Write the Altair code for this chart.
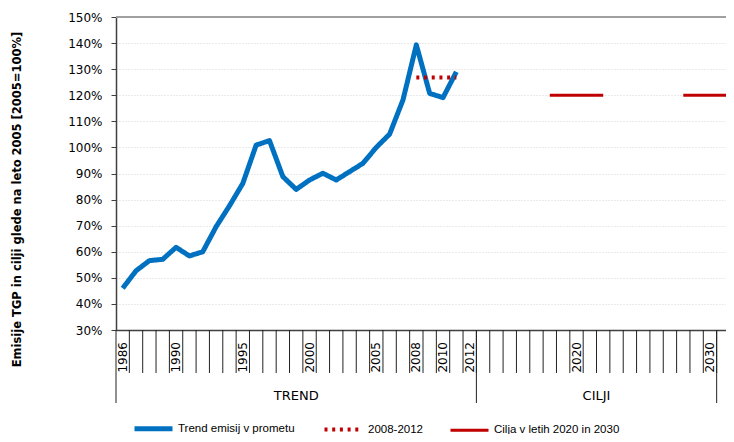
import altair as alt
import pandas as pd

# ---- data ----
trend_years = list(range(1986, 2012))
trend_values = [46.0, 52.7, 56.6, 57.1, 61.7, 58.4, 60.0, 69.6, 77.6, 86.2,
                100.9, 102.6, 88.8, 83.9, 87.5, 90.1, 87.5, 90.7, 93.9, 100.0,
                105.1, 118.2, 139.3, 120.7, 119.1, 129.0]
kyoto_years = [2008, 2011]
kyoto_values = [126.8, 126.8]
target_2020_years = [2018, 2022]
target_2030_years = [2028, 2032]
target_value = 120
series_names = ["Trend emisij v prometu", "2008-2012", "Cilja v letih 2020 in 2030"]
label_years = [1986, 1990, 1995, 2000, 2005, 2008, 2010, 2012, 2020, 2030]
group_names = ["TREND", "CILJI"]
group_bounds = [1985.5, 2012.5, 2030.5]
y_ticks = list(range(30, 151, 10))
y_top = [150]

BLUE = "#0070C0"
RED = "#C00000"

rows = []
for yr, v in zip(trend_years, trend_values):
    rows.append({"year": yr, "value": v, "series": series_names[0], "seg": "t"})
for yr, v in zip(kyoto_years, kyoto_values):
    rows.append({"year": yr, "value": v, "series": series_names[1], "seg": "k"})
for yr in target_2020_years:
    rows.append({"year": yr, "value": target_value, "series": series_names[2], "seg": "a"})
for yr in target_2030_years:
    rows.append({"year": yr, "value": target_value, "series": series_names[2], "seg": "b"})
lines = pd.DataFrame(rows)

boundaries = [trend_years[0] - 0.5 + k for k in range(1, 46)]
xscale = alt.Scale(domain=[1985.5, 2031.2], nice=False, zero=False)
yscale = alt.Scale(domain=[30, 150], nice=False, zero=False)

x_axis = alt.Axis(ticks=False, labels=False, title=None, grid=False,
                  domainColor="#404040", domainWidth=1.5)
y_axis = alt.Axis(values=y_ticks, labelExpr="datum.value + '%'", tickSize=5, labelPadding=9,
                  labelFontSize=12, labelColor="black", domainColor="#404040", domainWidth=1.5,
                  tickColor="#404040", grid=True, gridColor="#d4d4d4", gridDash=[1, 2],
                  title="Emisije TGP in cilji glede na leto 2005 [2005=100%]",
                  titleFontSize=11.5, titleFontWeight="bold", titleColor="black",
                  titleX=-98.5, titleY=182, titleAngle=270, titleAlign="center",
                  titleBaseline="middle")

top_rule = alt.Chart(pd.DataFrame({"v": y_top})).mark_rule(color="#a0a0a0", strokeWidth=2).encode(
    y=alt.Y("v:Q", scale=yscale, axis=y_axis)
)

line_layer = alt.Chart(lines).mark_line(clip=True, strokeJoin="round", strokeCap="butt").encode(
    x=alt.X("year:Q", scale=xscale, axis=x_axis),
    y=alt.Y("value:Q", scale=yscale, axis=y_axis),
    color=alt.Color("series:N", scale=alt.Scale(domain=series_names, range=[BLUE, RED, RED]),
                    legend=alt.Legend(title=None)),
    strokeDash=alt.StrokeDash("series:N",
                              scale=alt.Scale(domain=series_names, range=[[1, 0], [3, 4.7], [1, 0]]),
                              legend=alt.Legend(title=None)),
    strokeWidth=alt.StrokeWidth("series:N", scale=alt.Scale(domain=series_names, range=[5, 3, 4]),
                                legend=None),
    detail="seg:N",
    order="year:Q",
)

tick_rules = alt.Chart(pd.DataFrame({"year": boundaries})).mark_rule(
    color="#222222", strokeWidth=1
).encode(
    x=alt.X("year:Q", scale=xscale),
    y=alt.value(313),
    y2=alt.value(356),
)

year_labels = alt.Chart(pd.DataFrame({"year": label_years})).mark_text(
    angle=270, align="right", baseline="middle", fontSize=12, color="black"
).encode(
    x=alt.X("year:Q", scale=xscale),
    y=alt.value(325),
    text=alt.Text("year:N"),
)

group_rules = alt.Chart(pd.DataFrame({"year": group_bounds})).mark_rule(
    color="#222222", strokeWidth=1
).encode(
    x=alt.X("year:Q", scale=xscale),
    y=alt.value(313),
    y2=alt.value(386),
)

group_centers = [(group_bounds[i] + group_bounds[i + 1]) / 2 for i in range(len(group_names))]
group_text = alt.Chart(pd.DataFrame({"year": group_centers, "name": group_names})).mark_text(
    fontSize=13, color="black", baseline="middle"
).encode(
    x=alt.X("year:Q", scale=xscale),
    y=alt.value(379),
    text="name:N",
)

chart = alt.layer(top_rule, line_layer, tick_rules, year_labels, group_rules, group_text).properties(
    width=610, height=313,
    autosize=alt.AutoSizeParams(type="none"),
    padding={"left": 108, "top": 9, "right": 0, "bottom": 104},
).configure(
    font="DejaVu Sans", background="white"
).configure_view(
    stroke=None
).configure_legend(
    orient="none", legendX=16, legendY=390, direction="horizontal", columns=3,
    columnPadding=21, labelOffset=3, symbolSize=1444, symbolStrokeWidth=4,
    symbolType="stroke", labelFontSize=11.5, labelFont="Liberation Sans",
    labelColor="black", labelBaseline="middle", padding=0,
)

chart.save("out.html", embed_options={"renderer": "svg", "actions": False})
